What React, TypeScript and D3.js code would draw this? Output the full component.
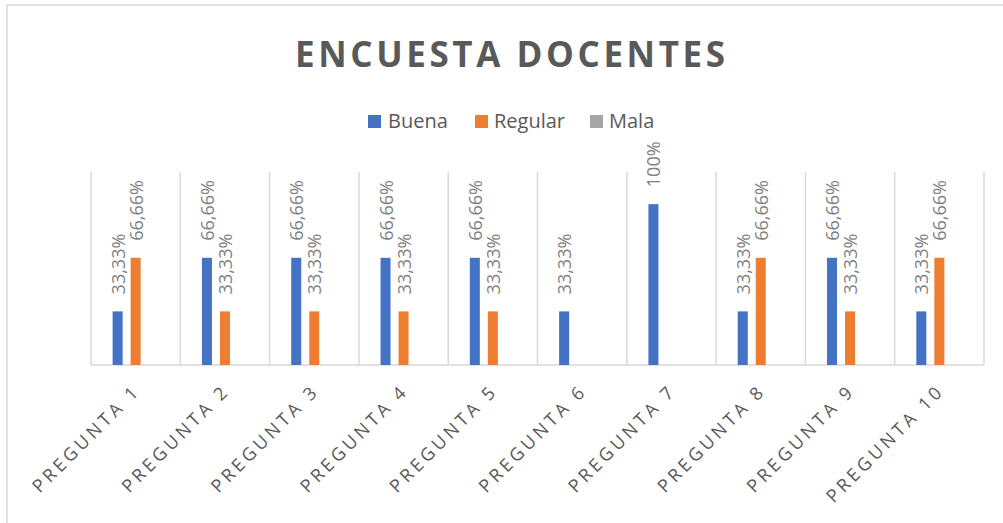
import * as d3 from 'd3'

// Survey results (fractions)
const categories = ['Pregunta 1', 'Pregunta 2', 'Pregunta 3', 'Pregunta 4', 'Pregunta 5',
  'Pregunta 6', 'Pregunta 7', 'Pregunta 8', 'Pregunta 9', 'Pregunta 10']
const seriesNames = ['Buena', 'Regular', 'Mala']
const buena: (number | null)[] = [0.3333, 0.6666, 0.6666, 0.6666, 0.6666, 0.3333, 1, 0.3333, 0.6666, 0.3333]
const regular: (number | null)[] = [0.6666, 0.3333, 0.3333, 0.3333, 0.3333, null, null, 0.6666, 0.3333, 0.6666]
const mala: (number | null)[] = [null, null, null, null, null, null, null, null, null, null]
const labelText: Record<string, string> = { '0.3333': '33,33%', '0.6666': '66,66%', '1': '100%' }

const COLORS = ['#4472C4', '#ED7D31', '#A5A5A5']
const W = 1003
const H = 523
const PLOT = { left: 91, right: 984, top: 172, bottom: 365 }
const FONT = '"Open Sans", "Noto Sans", sans-serif'

export default function App() {
  const series = [buena, regular, mala]

  const x0 = d3.scaleBand<string>().domain(categories).range([PLOT.left, PLOT.right]).paddingInner(0).paddingOuter(0)
  const x1 = d3.scaleBand<string>().domain(seriesNames).range([0, x0.bandwidth()]).paddingInner(0.444).paddingOuter(1.2)
  const y = d3.scaleLinear().domain([0, 1.2]).range([PLOT.bottom, PLOT.top])

  const gridXs = d3.range(categories.length + 1).map(i => PLOT.left + i * x0.step())

  // legend layout
  const legendItems = [
    { name: 'Buena', sq: 368, tx: 388 },
    { name: 'Regular', sq: 475, tx: 494 },
    { name: 'Mala', sq: 590, tx: 609 },
  ]

  return (
    <svg width={W} height={H} style={{ position: 'absolute', left: 0, top: 0, background: '#fff' }}>
      <rect x={7} y={5} width={W + 20} height={H + 20} fill="#fff" stroke="#d9d9d9" strokeWidth={1.5} />

      {/* Title */}
      <text x={510} y={67} textAnchor="middle" fontFamily={FONT} fontWeight={700} fontSize={35}
        fill="#595959" textLength={430} lengthAdjust="spacing">ENCUESTA DOCENTES</text>

      {/* Legend */}
      {legendItems.map((l, i) => (
        <g key={l.name}>
          <rect x={l.sq} y={115} width={13} height={13} fill={COLORS[i]} />
          <text x={l.tx} y={128} fontFamily={FONT} fontSize={20} fill="#595959">{l.name}</text>
        </g>
      ))}

      {/* Category separators */}
      {gridXs.map((gx, i) => (
        <line key={i} x1={gx} x2={gx} y1={PLOT.top} y2={PLOT.bottom} stroke="#d9d9d9" strokeWidth={1.5} />
      ))}
      <line x1={PLOT.left} x2={PLOT.right} y1={PLOT.bottom} y2={PLOT.bottom} stroke="#d9d9d9" strokeWidth={1.5} />

      {/* Bars + labels */}
      {series.map((vals, si) => (
        <g key={seriesNames[si]}>
          {vals.map((v, ci) => {
            if (v == null) return null
            const bx = (x0(categories[ci]) ?? 0) + (x1(seriesNames[si]) ?? 0)
            const bw = x1.bandwidth()
            const top = y(v)
            const cx = bx + bw / 2
            const ly = top - 17
            return (
              <g key={ci}>
                <rect x={bx} y={top} width={bw} height={PLOT.bottom - top} fill={COLORS[si]} />
                <text x={cx} y={ly} transform={`rotate(-90 ${cx} ${ly})`} textAnchor="start"
                  dominantBaseline="central" fontFamily={FONT} fontSize={18} fill="#7f7f7f">
                  {labelText[String(v)]}
                </text>
              </g>
            )
          })}
        </g>
      ))}

      {/* Category labels */}
      {categories.map(c => {
        const cx = (x0(c) ?? 0) + x0.bandwidth() / 2 + 6
        const cy = 392
        return (
          <text key={c} x={cx} y={cy} transform={`rotate(-45 ${cx} ${cy})`} textAnchor="end"
            fontFamily={FONT} fontSize={18} letterSpacing={3.6} fill="#595959">
            {c.toUpperCase()}
          </text>
        )
      })}
    </svg>
  )
}
